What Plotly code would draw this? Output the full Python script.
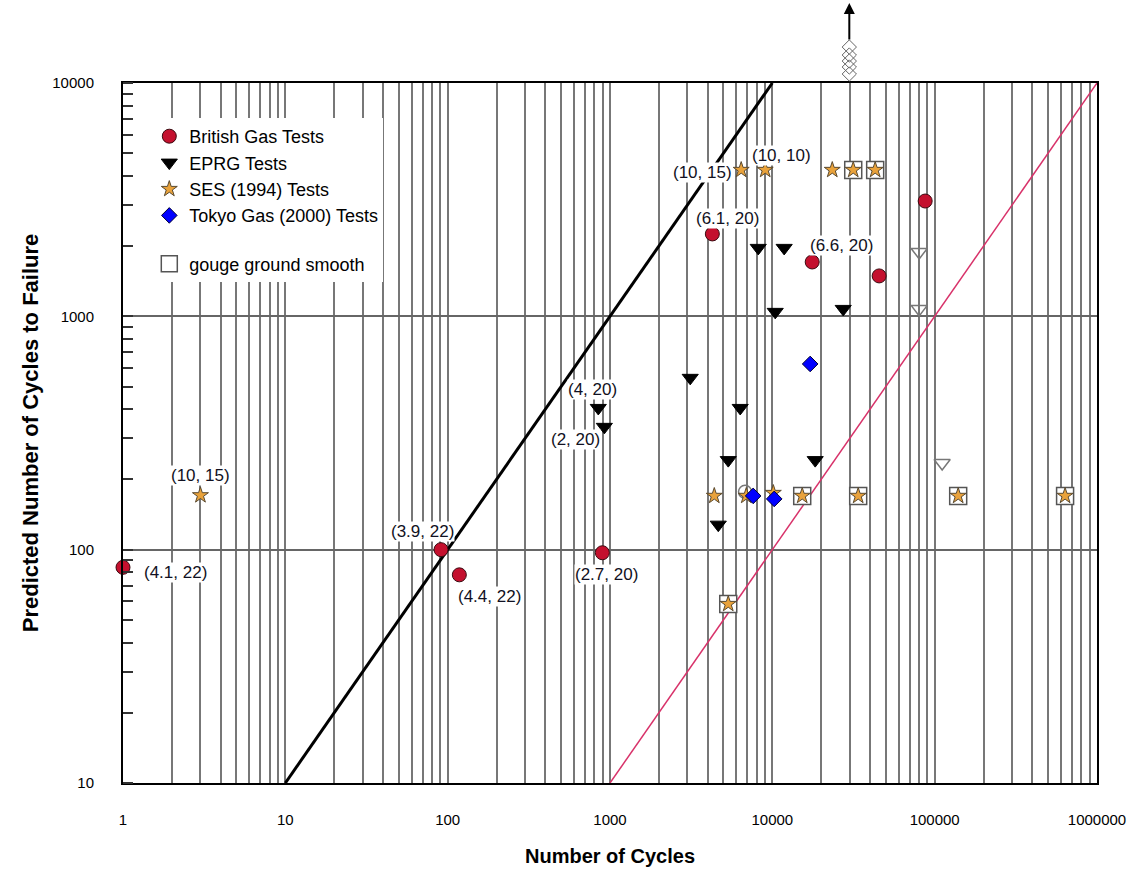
import numpy as np
import plotly.graph_objects as go

# ---------------- data ----------------
bg_x = [1, 91, 118, 897, 4270, 17600, 45500, 87400]
bg_y = [84, 100, 78, 97, 2255, 1710, 1490, 3120]

eprg_x = [847, 923, 3120, 4645, 5350, 6340, 8190, 10420, 11830, 18370, 27330]
eprg_y = [405, 336, 545, 128, 242, 405, 1965, 1045, 1965, 242, 1076]

ses_x = [3, 4390, 6430, 6910, 9040, 10140, 15280, 23400, 31500, 33800, 43000, 139600, 636000, 5350]
ses_y = [171, 170, 4240, 170, 4240, 175, 170, 4240, 4240, 170, 4240, 170, 170, 58.5]

tokyo_x = [7620, 10270, 17100]
tokyo_y = [170, 165, 625]

# gouge ground smooth specimens
gouge_ses_x = [5350, 15280, 31500, 33800, 43000, 139600, 636000]
gouge_ses_y = [58.5, 170, 4240, 170, 4240, 170, 170]
gouge_eprg_x = [80300, 80300, 111200]
gouge_eprg_y = [1888, 1076, 235]
gouge_bg_x = [6790]
gouge_bg_y = [177]

# run-outs above the chart (beyond 10000)
runout_x = [29800, 29800, 29800, 29800, 29800]
runout_y = [14260, 13180, 12420, 11710, 10930]
arrow_tip_y = 22000

# reference lines
line1_x = [10, 10000]
line1_y = [10, 10000]
line2_x = [1000, 1000000]
line2_y = [10, 10000]

x_ticks = [1, 10, 100, 1000, 10000, 100000, 1000000]
y_ticks = [10, 100, 1000, 10000]

# labels: (text, x, y)
labels = [
    ("(10, 15)", ses_x[0], ses_y[0]),
    ("(4.1, 22)", bg_x[0], bg_y[0]),
    ("(3.9, 22)", bg_x[1], bg_y[1]),
    ("(4.4, 22)", bg_x[2], bg_y[2]),
    ("(2.7, 20)", bg_x[3], bg_y[3]),
    ("(4, 20)", eprg_x[0], eprg_y[0]),
    ("(2, 20)", eprg_x[1], eprg_y[1]),
    ("(10, 15)", ses_x[2], ses_y[2]),
    ("(10, 10)", ses_x[4], ses_y[4]),
    ("(6.1, 20)", bg_x[4], bg_y[4]),
    ("(6.6, 20)", bg_x[5], bg_y[5]),
]
# pixel offsets of the label text from its point
label_offsets = [(0, 20), (52, -5), (-19, 18), (30, -22), (4, -22), (-6, 18),
                 (-29, -13), (-39, -3), (16, 14), (15, 15), (29, 16)]

FONT = "Liberation Sans, Arial, Helvetica, sans-serif"
MAIN_TOP = 700 / 783  # main plot domain top (pixels 83..783 of a 783px tall area)

fig = go.Figure()

fig.add_trace(go.Scatter(x=line1_x, y=line1_y, mode="lines",
                         line=dict(color="black", width=3), showlegend=False, hoverinfo="skip"))
fig.add_trace(go.Scatter(x=line2_x, y=line2_y, mode="lines",
                         line=dict(color="#D8326A", width=1.5), showlegend=False, hoverinfo="skip"))

fig.add_trace(go.Scatter(x=gouge_ses_x, y=gouge_ses_y, mode="markers", name="gouge ground smooth",
                         legendgroup="g2", legendrank=5,
                         marker=dict(symbol="square", size=17, color="white",
                                     line=dict(color="#555555", width=1.5))))
fig.add_trace(go.Scatter(x=gouge_eprg_x, y=gouge_eprg_y, mode="markers", showlegend=False,
                         marker=dict(symbol="triangle-down-open", size=14, color="#777777",
                                     line=dict(width=1.5))))
fig.add_trace(go.Scatter(x=gouge_bg_x, y=gouge_bg_y, mode="markers", showlegend=False,
                         marker=dict(symbol="circle-open", size=13, color="#777777",
                                     line=dict(width=1.5))))

fig.add_trace(go.Scatter(x=bg_x, y=bg_y, mode="markers", name="British Gas Tests",
                         legendgroup="g1", legendrank=1, cliponaxis=False,
                         marker=dict(symbol="circle", size=14, color="#C4102E",
                                     line=dict(color="#3a0a10", width=1))))
fig.add_trace(go.Scatter(x=eprg_x, y=eprg_y, mode="markers", name="EPRG Tests",
                         legendgroup="g1", legendrank=2,
                         marker=dict(symbol="triangle-down", size=14, color="black",
                                     line=dict(color="black", width=1))))
fig.add_trace(go.Scatter(x=ses_x, y=ses_y, mode="markers", name="SES (1994) Tests",
                         legendgroup="g1", legendrank=3,
                         marker=dict(symbol="star", size=12, color="#E9A23B",
                                     line=dict(color="#5a4a30", width=1))))
fig.add_trace(go.Scatter(x=tokyo_x, y=tokyo_y, mode="markers", name="Tokyo Gas (2000) Tests",
                         legendgroup="g1", legendrank=4,
                         marker=dict(symbol="diamond", size=12, color="#0000FF",
                                     line=dict(color="#000033", width=1))))
# run-out markers drawn in a strip above the main plot
fig.add_trace(go.Scatter(x=runout_x, y=runout_y, mode="markers", showlegend=False,
                         xaxis="x2", yaxis="y2", cliponaxis=False,
                         marker=dict(symbol="diamond-open", size=11, color="#666666",
                                     line=dict(width=1))))

annotations = []
for (txt, px, py), (dx, dy) in zip(labels, label_offsets):
    annotations.append(dict(x=np.log10(px), y=np.log10(py), xref="x", yref="y", text=txt,
                            showarrow=False, xshift=dx, yshift=dy, bgcolor="white",
                            borderpad=0, font=dict(family=FONT, size=17, color="#111122")))
# arrow above the run-out stack
annotations.append(dict(x=np.log10(runout_x[0]), y=np.log10(arrow_tip_y), xref="x2", yref="y2",
                        text="", showarrow=True, arrowhead=2, arrowsize=1.1, arrowwidth=2,
                        arrowcolor="black", ax=0, ay=38))

grid_c = "#777777"
fig.update_layout(
    width=1134, height=873,
    margin=dict(l=123, r=37, t=0, b=90, autoexpand=False),
    paper_bgcolor="white", plot_bgcolor="white",
    font=dict(family=FONT, size=15, color="black"),
    showlegend=True,
    legend=dict(x=0.027, y=0.95 * MAIN_TOP, xanchor="left", yanchor="top", bgcolor="white",
                font=dict(size=18, family=FONT), traceorder="grouped", tracegroupgap=22,
                itemsizing="trace"),
    annotations=annotations,
    xaxis=dict(type="log", range=[0, 6], tickvals=x_ticks, ticktext=[str(v) for v in x_ticks],
               anchor="y", domain=[0, 1], automargin=False,
               showgrid=True, gridcolor=grid_c, gridwidth=1.5,
               minor=dict(showgrid=True, gridcolor=grid_c, gridwidth=1.5, dtick="D1", ticks=""),
               ticks="outside", ticklen=22, tickcolor="rgba(0,0,0,0)",
               showline=True, linecolor="black", linewidth=2, mirror=True, zeroline=False,
               tickfont=dict(size=15),
               title=dict(text="<b>Number of Cycles</b>", font=dict(size=20), standoff=22)),
    yaxis=dict(type="log", range=[1, 4], tickvals=y_ticks, ticktext=[str(v) for v in y_ticks],
               anchor="x", domain=[0, MAIN_TOP], automargin=False,
               showgrid=True, gridcolor="#666666", gridwidth=1.5,
               minor=dict(ticks="inside", ticklen=10, tickcolor="#333333", tickwidth=1.5,
                          dtick="D1", showgrid=False),
               ticks="outside", ticklen=24, tickcolor="rgba(0,0,0,0)",
               showline=True, linecolor="black", linewidth=2, mirror=True, zeroline=False,
               tickfont=dict(size=15),
               title=dict(text="<b>Predicted Number of Cycles to Failure</b>", font=dict(size=22),
                          standoff=8)),
    xaxis2=dict(type="log", range=[0, 6], matches="x", anchor="y2", domain=[0, 1],
                visible=False, showgrid=False, zeroline=False),
    yaxis2=dict(type="log", range=[4, 4 + 83 / 233.33], anchor="x2", domain=[MAIN_TOP, 1],
                visible=False, showgrid=False, zeroline=False),
)

fig.write_html("out.html")
